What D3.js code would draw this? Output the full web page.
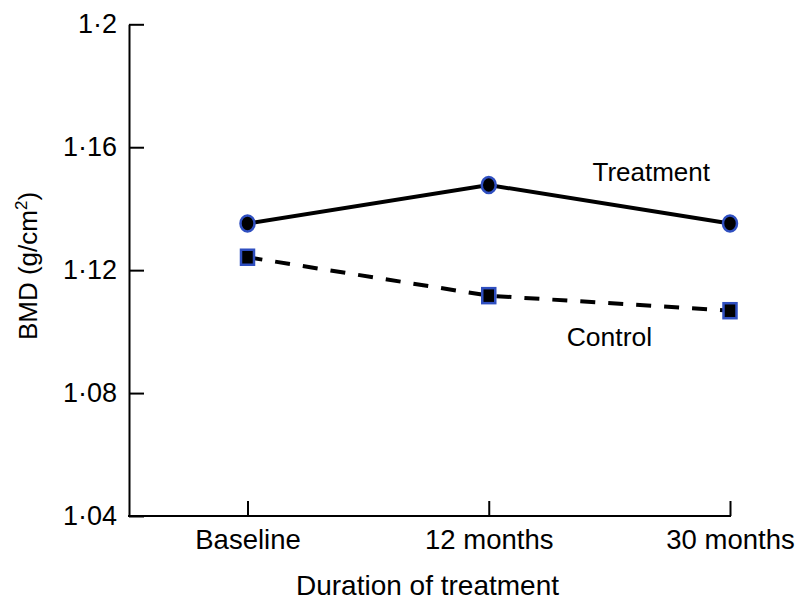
<!DOCTYPE html>
<html>
<head>
<meta charset="utf-8">
<script src="https://cdn.jsdelivr.net/npm/d3@7"></script>
<style>
  html, body { margin: 0; padding: 0; background: #fff; }
  svg { display: block; font-family: "Liberation Sans", Arial, Helvetica, sans-serif; }
</style>
</head>
<body>
<svg id="chart" width="796" height="600"></svg>
<script>
const categories = ["Baseline", "12 months", "30 months"];
const treatment = [1.1352, 1.1477, 1.1352];
const control = [1.1242, 1.1117, 1.1068];
const yTicks = [1.04, 1.08, 1.12, 1.16, 1.2];
const yTickLabels = ["1·04", "1·08", "1·12", "1·16", "1·2"];
const seriesNames = ["Treatment", "Control"];
const xTitle = "Duration of treatment";

const svg = d3.select("#chart");
const margin = {left: 129, top: 24.3, right: 66, bottom: 84};
const W = 796, H = 600;
const innerW = W - margin.left - margin.right;
const innerH = H - margin.top - margin.bottom;

const g = svg.append("g").attr("transform", `translate(${margin.left},${margin.top})`);

const x = d3.scalePoint().domain(categories).range([118.5, innerW]);
const y = d3.scaleLinear().domain([1.04, 1.2]).range([innerH, 0]);

// Y axis
const yAxis = d3.axisLeft(y)
  .tickValues(yTicks)
  .tickFormat((d, i) => yTickLabels[i])
  .tickSizeInner(-15).tickSizeOuter(0).tickPadding(12);
const yg = g.append("g").call(yAxis);
yg.select(".domain").attr("stroke", "#000").attr("stroke-width", 2);
yg.selectAll(".tick line").attr("stroke", "#000").attr("stroke-width", 2);
yg.selectAll(".tick text").attr("font-size", 27).attr("fill", "#000")
  .attr("font-family", "Liberation Sans, Arial, sans-serif");

// X axis
const xAxis = d3.axisBottom(x).tickSizeInner(-15).tickSizeOuter(0).tickPadding(13);
const xg = g.append("g").attr("transform", `translate(0,${innerH})`).call(xAxis);
xg.select(".domain").remove();
xg.append("line").attr("x1", 0).attr("x2", x.range()[1]).attr("y1", 0).attr("y2", 0)
  .attr("stroke", "#000").attr("stroke-width", 2).attr("stroke-linecap", "square");
xg.selectAll(".tick line").attr("stroke", "#000").attr("stroke-width", 2);
xg.selectAll(".tick text").attr("font-size", 27.5).attr("fill", "#000")
  .attr("font-family", "Liberation Sans, Arial, sans-serif");

// Lines
const line = d3.line().x((d, i) => x(categories[i])).y(d => y(d));
g.append("path").datum(treatment).attr("d", line)
  .attr("fill", "none").attr("stroke", "#000").attr("stroke-width", 4);
g.append("path").datum(control).attr("d", line)
  .attr("fill", "none").attr("stroke", "#000").attr("stroke-width", 4)
  .attr("stroke-dasharray", "15,13");

const blue = "#2f4fc0";
// Treatment markers (ellipses)
g.selectAll(".tm").data(treatment).enter().append("ellipse")
  .attr("cx", (d, i) => x(categories[i])).attr("cy", d => y(d))
  .attr("rx", 7).attr("ry", 8)
  .attr("fill", "#000").attr("stroke", blue).attr("stroke-width", 2.5);
// Control markers (squares)
g.selectAll(".cm").data(control).enter().append("rect")
  .attr("x", (d, i) => x(categories[i]) - 6.5).attr("y", d => y(d) - 7.5)
  .attr("width", 13).attr("height", 15)
  .attr("fill", "#000").attr("stroke", blue).attr("stroke-width", 2.5);

// Series labels
g.append("text").attr("x", x(categories[2]) - 20).attr("y", y(1.149))
  .attr("text-anchor", "end").attr("font-size", 26).attr("fill", "#000")
  .text(seriesNames[0]);
g.append("text").attr("x", (x(categories[1]) + x(categories[2])) / 2).attr("y", y(1.0953))
  .attr("text-anchor", "middle").attr("font-size", 26.5).attr("fill", "#000")
  .text(seriesNames[1]);

// Axis titles
svg.append("text").attr("x", (margin.left + margin.left + innerW) / 2 - 2).attr("y", 595)
  .attr("text-anchor", "middle").attr("font-size", 28).attr("fill", "#000")
  .text(xTitle);

const yt = svg.append("text").attr("transform", "translate(37,266) rotate(-90)")
  .attr("text-anchor", "middle").attr("font-size", 26).attr("fill", "#000");
yt.append("tspan").text("BMD (g/cm");
yt.append("tspan").attr("font-size", 17).attr("dy", -10).text("2");
yt.append("tspan").attr("dy", 10).text(")");
</script>
</body>
</html>
